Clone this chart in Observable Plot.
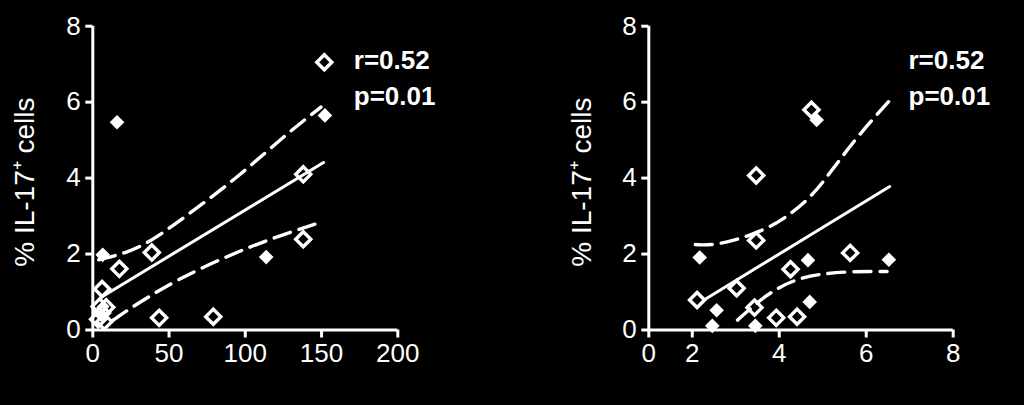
<!DOCTYPE html>
<html>
<head>
<meta charset="utf-8">
<script src="https://cdn.jsdelivr.net/npm/d3@7"></script>
<script src="https://cdn.jsdelivr.net/npm/@observablehq/plot@0.6"></script>
<style>
  html, body { margin: 0; padding: 0; background: #000; }
  #wrap { width: 1024px; height: 405px; display: flex; flex-direction: row; background: #000; overflow: hidden; }
  #wrap svg { display: block; }
</style>
</head>
<body>
<div id="wrap"></div>
<script>
// ---------- shared ----------
const yTicks = [0, 2, 4, 6, 8];
const yLabel = "% IL-17\u207A cells";
const statsText = "r=0.52\np=0.01";

// ---------- left panel ----------
const leftXTicks = [0, 50, 100, 150, 200];
const leftOpenX = [151.8, 138, 138, 38.7, 17.4, 6.1, 43.5, 79, 4.5, 8.8, 7.5, 3.5, 6.0];
const leftOpenY = [7.05, 4.10, 2.39, 2.04, 1.61, 1.08, 0.32, 0.35, 0.62, 0.60, 0.22, 0.28, 0.45];
const leftFilledX = [152.2, 15.9, 113.7, 6.5];
const leftFilledY = [5.65, 5.47, 1.92, 1.98];
const leftFitX = [5, 151.3];
const leftFitY = [0.85, 4.41];
const leftUpperX = [3.9, 22.4, 38.7, 67, 97.4, 125.7, 149.6];
const leftUpperY = [1.85, 2.03, 2.34, 3.17, 4.10, 5.12, 5.87];
const leftLowerX = [13, 30, 56, 86.6, 117, 147.4];
const leftLowerY = [0.25, 0.72, 1.34, 1.92, 2.41, 2.81];

// ---------- right panel ----------
const rightXTicks = [1, 2, 4, 6, 8];
const rightXTickLabels = ["0", "2", "4", "6", "8"];
const rightOpenX = [4.74, 3.47, 3.47, 5.63, 4.26, 3.02, 2.11, 3.43, 3.93, 4.41];
const rightOpenY = [5.80, 4.07, 2.36, 2.03, 1.60, 1.10, 0.79, 0.59, 0.32, 0.35];
const rightFilledX = [4.86, 2.17, 6.52, 4.66, 2.56, 4.70, 2.46, 3.45];
const rightFilledY = [5.53, 1.91, 1.85, 1.84, 0.52, 0.74, 0.11, 0.11];
const rightFitX = [2.27, 6.54];
const rightFitY = [0.79, 3.78];
const rightUpperX = [2.07, 2.42, 2.92, 3.62, 4.16, 4.78, 5.32, 5.86, 6.52];
const rightUpperY = [2.25, 2.23, 2.34, 2.61, 2.96, 3.54, 4.38, 5.18, 6.02];
const rightLowerX = [3.04, 3.70, 4.32, 4.93, 5.63, 6.48];
const rightLowerY = [0.26, 0.94, 1.32, 1.48, 1.54, 1.54];

const zip = (xs, ys) => xs.map((x, i) => ({x, y: ys[i]}));

const FONT = "'Liberation Sans', Arial, Helvetica, sans-serif";

function panel(cfg) {
  return Plot.plot({
    width: 512,
    height: 405,
    marginLeft: cfg.marginLeft,
    marginRight: cfg.marginRight,
    marginTop: 25.7,
    marginBottom: 75.5,
    style: {background: "#000", color: "#fff", fontFamily: FONT, fontSize: "26px", overflow: "visible"},
    x: {domain: cfg.xDomain},
    y: {domain: [0, 8]},
    marks: [
      Plot.ruleX([cfg.xDomain[0]], {stroke: "#fff", strokeWidth: 3}),
      Plot.ruleY([0], {stroke: "#fff", strokeWidth: 3}),
      Plot.axisY({ticks: yTicks, tickSize: 7, tickPadding: 5, strokeWidth: 3, label: null, fontSize: 26, tickFormat: d => String(d)}),
      Plot.axisX({ticks: cfg.xTicks, tickSize: 8, tickPadding: 6, strokeWidth: 3, label: null, fontSize: 26, tickFormat: cfg.tickFormat}),
      Plot.line(zip(cfg.upperX, cfg.upperY), {x: "x", y: "y", stroke: "#fff", strokeWidth: 3.4, strokeDasharray: "17,9", curve: "basis"}),
      Plot.line(zip(cfg.lowerX, cfg.lowerY), {x: "x", y: "y", stroke: "#fff", strokeWidth: 3.4, strokeDasharray: "17,9", curve: "basis"}),
      Plot.line(zip(cfg.fitX, cfg.fitY), {x: "x", y: "y", stroke: "#fff", strokeWidth: 3}),
      Plot.dot(zip(cfg.openX, cfg.openY), {x: "x", y: "y", symbol: "diamond2", r: 6.8, fill: "none", stroke: "#fff", strokeWidth: 3.4}),
      Plot.dot(zip(cfg.filledX, cfg.filledY), {x: "x", y: "y", symbol: "diamond2", r: 6.6, fill: "#fff", stroke: "none"}),
      Plot.text([yLabel], {text: d => d, frameAnchor: "left", rotate: -90, dx: cfg.labelDx, dy: 4, fontSize: 28, fill: "#fff", textAnchor: "middle", lineAnchor: "middle"}),
      Plot.text([statsText], {text: d => d, frameAnchor: "top-right", textAnchor: "start", lineAnchor: "top", dx: cfg.statsDx, dy: 17, fontSize: 26, fontWeight: "bold", lineHeight: 1.38, fill: "#fff"})
    ]
  });
}

const left = panel({
  marginLeft: 92.3, marginRight: 114.7,
  xDomain: [0, 200], xTicks: leftXTicks, tickFormat: d => String(d),
  openX: leftOpenX, openY: leftOpenY, filledX: leftFilledX, filledY: leftFilledY,
  fitX: leftFitX, fitY: leftFitY, upperX: leftUpperX, upperY: leftUpperY, lowerX: leftLowerX, lowerY: leftLowerY,
  labelDx: -68, statsDx: -44
});
const right = panel({
  marginLeft: 136.3, marginRight: 71.3,
  xDomain: [1, 8], xTicks: rightXTicks, tickFormat: d => rightXTickLabels[rightXTicks.indexOf(d)],
  openX: rightOpenX, openY: rightOpenY, filledX: rightFilledX, filledY: rightFilledY,
  fitX: rightFitX, fitY: rightFitY, upperX: rightUpperX, upperY: rightUpperY, lowerX: rightLowerX, lowerY: rightLowerY,
  labelDx: -66.5, statsDx: -44.7
});
document.getElementById("wrap").append(left, right);
</script>
</body>
</html>
